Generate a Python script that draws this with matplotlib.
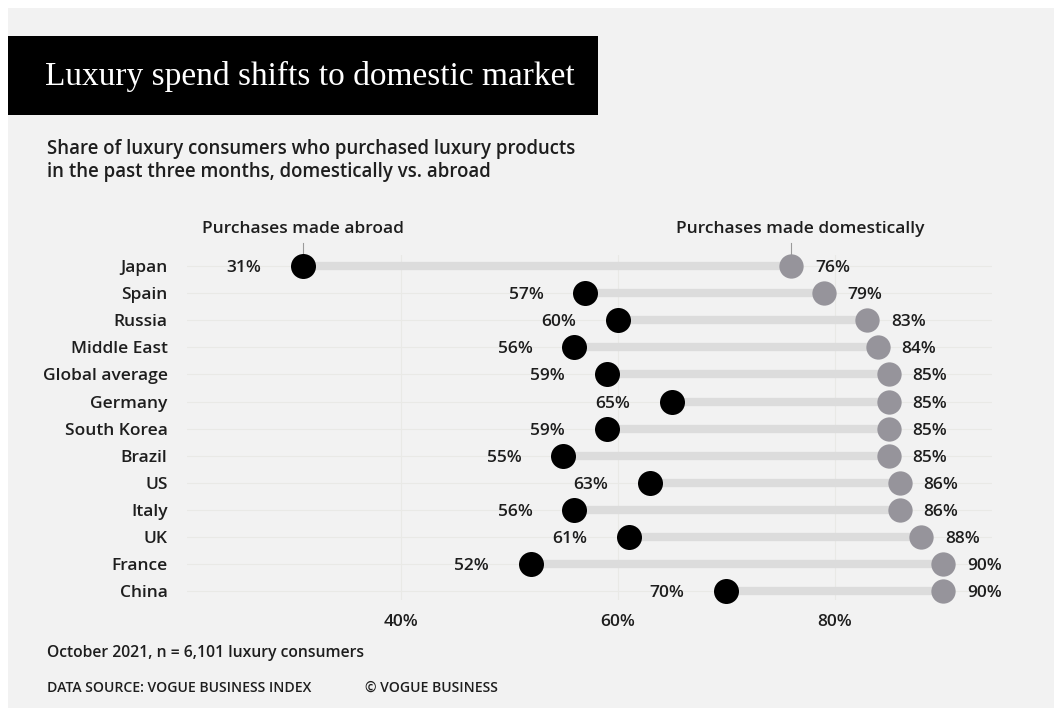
import matplotlib
matplotlib.use("Agg")
import matplotlib.pyplot as plt
from matplotlib.patches import Rectangle

# Survey data: share of luxury consumers buying abroad vs. domestically (%)
countries = ["Japan", "Spain", "Russia", "Middle East", "Global average", "Germany",
             "South Korea", "Brazil", "US", "Italy", "UK", "France", "China"]
abroad = [31, 57, 60, 56, 59, 65, 59, 55, 63, 56, 61, 52, 70]
domestic = [76, 79, 83, 84, 85, 85, 85, 85, 86, 86, 88, 90, 90]
xticks = [40, 60, 80]
xtick_labels = ["40%", "60%", "80%"]

SANS = ["Open Sans", "DejaVu Sans"]
SERIF = ["Liberation Serif", "DejaVu Serif"]
BG = "#f2f2f2"
TXT = "#1e1e1e"
DOT_ABROAD = "#000000"
DOT_HOME = "#96949b"
BAR = "#dcdcdc"
GRID = "#e9e9e6"
WEIGHT = 600

W, H = 1054, 710
fig = plt.figure(figsize=(W / 100, H / 100), dpi=100)
fig.patch.set_facecolor("white")


def fx(px):
    return px / W


def fy(py):
    return 1 - py / H


# light panel and black title band
fig.patches.append(Rectangle((fx(8), fy(708)), fx(W - 8), (708 - 8) / H,
                             transform=fig.transFigure, facecolor=BG, edgecolor="none", zorder=-2))
fig.patches.append(Rectangle((fx(8), fy(115)), fx(598 - 8), (115 - 36) / H,
                             transform=fig.transFigure, facecolor="black", edgecolor="none", zorder=-1))
fig.text(fx(45), fy(76), "Luxury spend shifts to domestic market", color="white",
         family=SERIF, fontsize=24, va="center", ha="left")

fig.text(fx(47), fy(149), "Share of luxury consumers who purchased luxury products",
         family=SANS, fontsize=13.4, color=TXT, va="center", fontweight=WEIGHT)
fig.text(fx(47), fy(172), "in the past three months, domestically vs. abroad",
         family=SANS, fontsize=13.4, color=TXT, va="center", fontweight=WEIGHT)

ax = fig.add_axes([fx(187), fy(600), fx(992 - 187), (600 - 255) / H])
ax.set_facecolor("none")
ax.set_xlim(20.3, 94.5)
ax.set_ylim(len(countries) - 1 + 0.33, -0.41)
ypos = list(range(len(countries)))

# faint row guides and vertical gridlines
for y in ypos:
    ax.axhline(y, color=GRID, lw=0.8, zorder=0)
for x in xticks:
    ax.axvline(x, color=GRID, lw=0.8, zorder=0)

for y, a, d in zip(ypos, abroad, domestic):
    ax.plot([a, d], [y, y], color=BAR, lw=6, solid_capstyle="butt", zorder=1)
ax.scatter(abroad, ypos, s=18 ** 2, color=DOT_ABROAD, zorder=3, linewidths=0, clip_on=False)
ax.scatter(domestic, ypos, s=17.5 ** 2, color=DOT_HOME, zorder=3, linewidths=0, clip_on=False)

for y, a, d in zip(ypos, abroad, domestic):
    ax.annotate(f"{a}%", (a, y), xytext=(-30, 0), textcoords="offset points",
                ha="right", va="center_baseline", family=SANS, fontsize=12.5, color=TXT,
                fontweight=WEIGHT)
    ax.annotate(f"{d}%", (d, y), xytext=(17, 0), textcoords="offset points",
                ha="left", va="center_baseline", family=SANS, fontsize=12.5, color=TXT,
                fontweight=WEIGHT)

ax.set_xticks(xticks)
ax.set_xticklabels(xtick_labels, family=SANS, fontsize=12.5, color=TXT, fontweight=WEIGHT)
ax.set_yticks(ypos)
ax.set_yticklabels(countries, family=SANS, fontsize=12.5, color=TXT, fontweight=WEIGHT)
ax.tick_params(axis="x", length=0, pad=10)
ax.tick_params(axis="y", length=0, pad=14)
for s in ax.spines.values():
    s.set_visible(False)

# series headers with short leader lines down to the first row
ax.annotate("Purchases made abroad", (abroad[0], -0.41), xytext=(0, 19),
            textcoords="offset points", ha="center", va="center", family=SANS,
            fontsize=12.5, color=TXT, fontweight=WEIGHT, annotation_clip=False)
ax.annotate("Purchases made domestically", (domestic[0] + 0.8, -0.41), xytext=(0, 19),
            textcoords="offset points", ha="center", va="center", family=SANS,
            fontsize=12.5, color=TXT, fontweight=WEIGHT, annotation_clip=False)
for v in (abroad[0], domestic[0]):
    ax.plot([v, v], [-0.85, -0.3], color="#9a9a9a", lw=0.8, zorder=2, clip_on=False)

fig.text(fx(47), fy(653), "October 2021, n = 6,101 luxury consumers",
         family=SANS, fontsize=11.3, color=TXT, va="center", fontweight=WEIGHT)
fig.text(fx(47), fy(688), "DATA SOURCE: VOGUE BUSINESS INDEX",
         family=SANS, fontsize=10.1, color=TXT, va="center", fontweight=WEIGHT)
fig.text(fx(365), fy(688), "\u00a9 VOGUE BUSINESS",
         family=SANS, fontsize=10.1, color=TXT, va="center", fontweight=WEIGHT)

fig.savefig("out.png", dpi=100, facecolor=fig.get_facecolor())
